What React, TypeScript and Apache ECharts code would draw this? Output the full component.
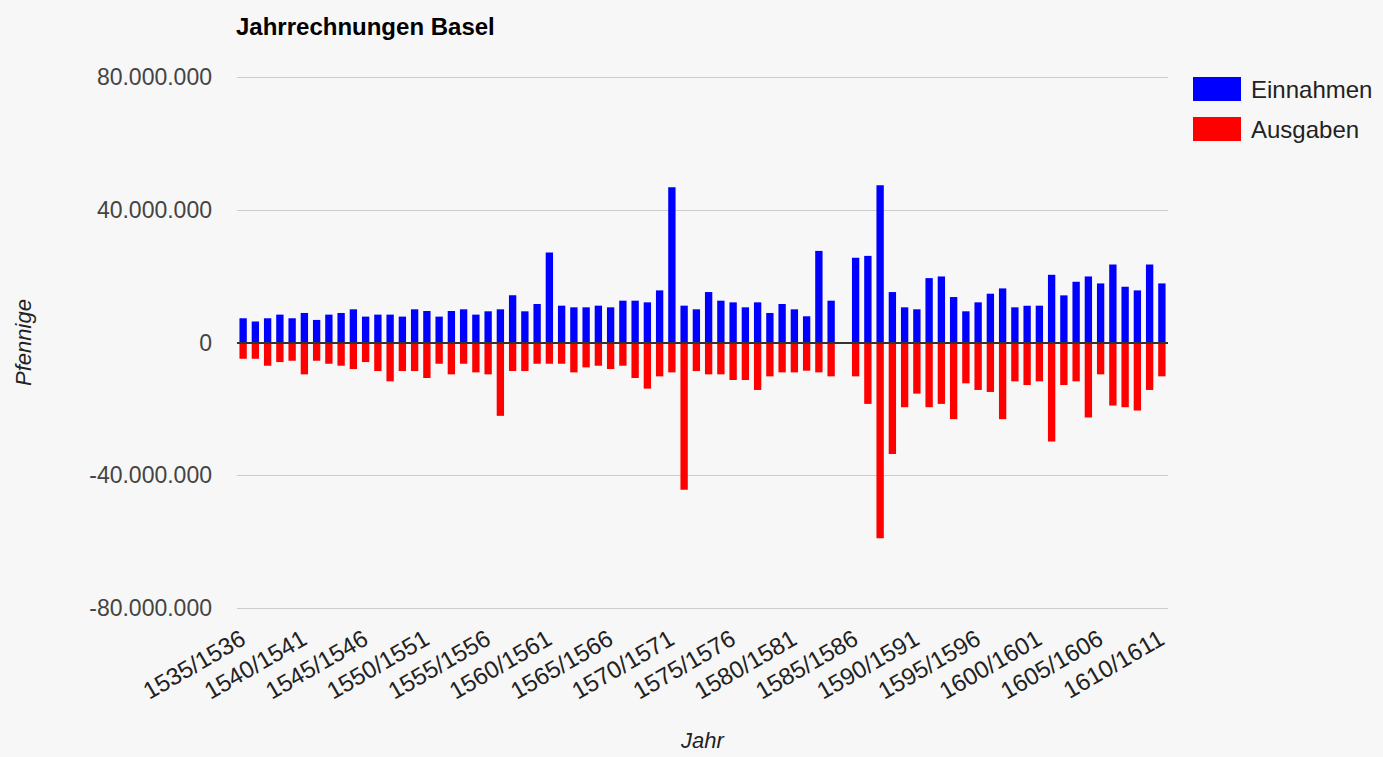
import React, { useEffect, useRef } from "react";
import * as echarts from "echarts";

const categories: string[] = [
  "1535/1536", "1536/1537", "1537/1538", "1538/1539", "1539/1540",
  "1540/1541", "1541/1542", "1542/1543", "1543/1544", "1544/1545",
  "1545/1546", "1546/1547", "1547/1548", "1548/1549", "1549/1550",
  "1550/1551", "1551/1552", "1552/1553", "1553/1554", "1554/1555",
  "1555/1556", "1556/1557", "1557/1558", "1558/1559", "1559/1560",
  "1560/1561", "1561/1562", "1562/1563", "1563/1564", "1564/1565",
  "1565/1566", "1566/1567", "1567/1568", "1568/1569", "1569/1570",
  "1570/1571", "1571/1572", "1572/1573", "1573/1574", "1574/1575",
  "1575/1576", "1576/1577", "1577/1578", "1578/1579", "1579/1580",
  "1580/1581", "1581/1582", "1582/1583", "1583/1584", "1584/1585",
  "1585/1586", "1586/1587", "1587/1588", "1588/1589", "1589/1590",
  "1590/1591", "1591/1592", "1592/1593", "1593/1594", "1594/1595",
  "1595/1596", "1596/1597", "1597/1598", "1598/1599", "1599/1600",
  "1600/1601", "1601/1602", "1602/1603", "1603/1604", "1604/1605",
  "1605/1606", "1606/1607", "1607/1608", "1608/1609", "1609/1610",
  "1610/1611",
];

const einnahmen: (number | null)[] = [
  7300000, 6300000, 7300000, 8400000, 7300000,
  8900000, 6800000, 8400000, 8900000, 10000000,
  7800000, 8400000, 8400000, 7800000, 10000000,
  9500000, 7800000, 9500000, 10000000, 8400000,
  9400000, 10000000, 14200000, 9400000, 11600000,
  27100000, 11100000, 10600000, 10600000, 11100000,
  10600000, 12600000, 12600000, 12100000, 15700000,
  46800000, 11100000, 10000000, 15200000, 12600000,
  12100000, 10600000, 12100000, 8900000, 11600000,
  10000000, 7900000, 27600000, 12600000, null,
  25500000, 26100000, 47400000, 15200000, 10600000,
  10000000, 19400000, 19900000, 13700000, 9400000,
  12100000, 14700000, 16300000, 10600000, 11100000,
  11100000, 20400000, 14200000, 18300000, 19900000,
  17800000, 23500000, 16800000, 15700000, 23500000,
  17800000,
];

const ausgaben: (number | null)[] = [
  -4900000, -4900000, -7000000, -5900000, -5500000,
  -9600000, -5500000, -6400000, -7000000, -8000000,
  -5900000, -8600000, -11700000, -8600000, -8600000,
  -10700000, -6400000, -9600000, -6400000, -9000000,
  -9600000, -22100000, -8600000, -8600000, -6400000,
  -6400000, -6400000, -9000000, -7500000, -7000000,
  -8000000, -7000000, -10700000, -13900000, -10200000,
  -9000000, -44400000, -8600000, -9600000, -9600000,
  -11300000, -11300000, -14300000, -10200000, -9000000,
  -9000000, -8500000, -9000000, -10200000, null,
  -10200000, -18500000, -59000000, -33600000, -19500000,
  -15400000, -19500000, -18500000, -23100000, -12300000,
  -14300000, -14900000, -23100000, -11700000, -12800000,
  -11700000, -29800000, -12800000, -11700000, -22600000,
  -9600000, -19000000, -19500000, -20500000, -14300000,
  -10200000,
];

const FONT = "Liberation Sans, Arial, sans-serif";

function formatDe(v: number): string {
  const s = Math.abs(v).toString().replace(/\B(?=(\d{3})+(?!\d))/g, ".");
  return (v < 0 ? "-" : "") + s;
}

export default function App() {
  const ref = useRef<HTMLDivElement>(null);
  useEffect(() => {
    document.body.style.margin = "0";
    document.body.style.background = "#f7f7f7";
    const chart = echarts.init(ref.current!, null, { renderer: "svg" });
    chart.setOption({
      animation: false,
      backgroundColor: "#f7f7f7",
      textStyle: { fontFamily: FONT },
      title: {
        text: "Jahrrechnungen Basel",
        left: 231,
        top: 9,
        textStyle: { fontFamily: FONT, fontSize: 24, fontWeight: "bold", color: "#000" },
      },
      legend: {
        orient: "vertical",
        left: 1188,
        top: 72,
        itemWidth: 48,
        itemHeight: 24,
        itemGap: 16,
        icon: "rect",
        textStyle: { fontFamily: FONT, fontSize: 24, color: "#222", padding: [0, 0, 0, 5] },
        data: ["Einnahmen", "Ausgaben"],
      },
      grid: {
        left: 237,
        right: 215,
        top: 77,
        bottom: 149,
        containLabel: false,
        outerBoundsMode: "none",
      },
      xAxis: {
        type: "category",
        data: categories,
        name: "Jahr",
        nameLocation: "middle",
        nameGap: 121,
        nameTextStyle: { fontFamily: FONT, fontSize: 22, fontStyle: "italic", color: "#222" },
        axisLine: { show: false },
        axisTick: { show: false },
        axisLabel: {
          interval: 4,
          rotate: 30,
          margin: 28,
          fontFamily: FONT,
          fontSize: 24,
          color: "#222",
        },
      },
      yAxis: {
        type: "value",
        min: -80000000,
        max: 80000000,
        interval: 40000000,
        name: "Pfennige",
        nameLocation: "middle",
        nameGap: 203,
        nameRotate: 90,
        nameTextStyle: { fontFamily: FONT, fontSize: 22, fontStyle: "italic", color: "#222" },
        axisLine: { show: false },
        axisTick: { show: false },
        splitLine: { lineStyle: { color: "#cccccc", width: 1 } },
        axisLabel: {
          margin: 25,
          fontFamily: FONT,
          fontSize: 23,
          color: "#444",
          formatter: (v: number) => formatDe(v),
        },
      },
      series: [
        {
          name: "Einnahmen",
          type: "bar",
          stack: "total",
          barWidth: "60%",
          itemStyle: { color: "#0000ff" },
          data: einnahmen,
          markLine: {
            silent: true,
            symbol: "none",
            label: { show: false },
            lineStyle: { color: "#333", width: 2, type: "solid" },
            data: [{ yAxis: 0 }],
          },
        },
        {
          name: "Ausgaben",
          type: "bar",
          stack: "total",
          barWidth: "60%",
          itemStyle: { color: "#ff0000" },
          data: ausgaben,
        },
      ],
    });
    return () => chart.dispose();
  }, []);
  return <div ref={ref} style={{ width: 1383, height: 757, background: "#f7f7f7" }} />;
}
